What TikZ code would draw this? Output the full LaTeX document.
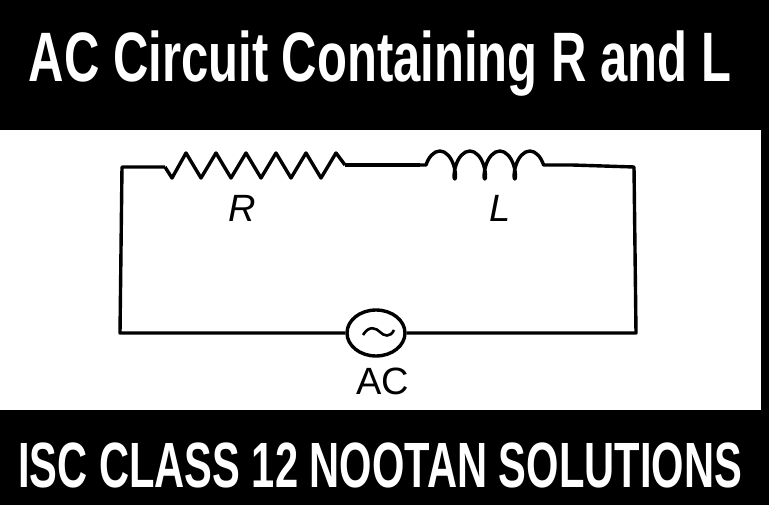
\documentclass[tikz,border=0pt]{standalone}
\usepackage{fontspec}
\setmainfont{Liberation Sans}
\usetikzlibrary{decorations.pathmorphing,shapes.geometric}
\begin{document}
\begin{tikzpicture}[x=1pt,y=-1pt,
  band/.style={fill=black},
  title/.style={text=white,font=\bfseries\fontsize{70}{72}\selectfont,xscale=0.7},
  wire/.style={line width=3.4pt,line join=round},
  lbl/.style={font=\fontsize{38}{40}\selectfont}]
\useasboundingbox (0,0) rectangle (769,505);
\fill[white] (0,0) rectangle (769,505);
\fill[band] (0,0) rectangle (769,130);
\fill[band] (0,410) rectangle (769,505);
\fill[band] (761,0) rectangle (769,505);
\node[title] (t1) at (380,64) {AC Circuit Containing R and L};
\node[title,font=\bfseries\fontsize{64}{66}\selectfont,xscale=0.93] (t2) at (380,465) {ISC CLASS 12 NOOTAN SOLUTIONS};
\coordinate (tl) at (122,167);
\coordinate (tr) at (634,167);
\coordinate (bl) at (120,333);
\coordinate (br) at (636,333);
\coordinate (r1) at (165,167);
\coordinate (r2) at (345,165);
\coordinate (l1) at (420,165);
\coordinate (l2) at (572,165);
\node[draw,line width=3.4pt,ellipse,minimum width=58pt,minimum height=46pt,inner sep=0] (ac) at (376,333) {};
\node[lbl] (acl) at (383,381) {AC};
\node[lbl,font=\itshape\fontsize{38}{40}\selectfont] (rl) at (242,208) {R};
\node[lbl,font=\itshape\fontsize{38}{40}\selectfont] (ll) at (500,208) {L};
\draw[wire] (r1) -- (tl) -- (bl) -- (ac.west);
\draw[wire] (ac.east) -- (br) -- (tr) -- (l2);
\draw[wire] (r2) -- (l1);
\draw[wire] (r1) -- (172,178) -- (186,153) -- (201,178) -- (216,153) -- (231,178) -- (246,153) -- (261,178) -- (276,153) -- (291,178) -- (306,153) -- (321,178) -- (336,153) -- (r2);
\draw[wire,decoration={coil,aspect=0.45,segment length=30pt,amplitude=14pt,pre length=6pt,post length=6pt},decorate] (l1) -- (l2);
\draw[line width=2.6pt] (363,335) .. controls (369,325) and (376,328) .. (380,332) .. controls (384,336) and (390,338) .. (394,330);
\end{tikzpicture}
\end{document}
